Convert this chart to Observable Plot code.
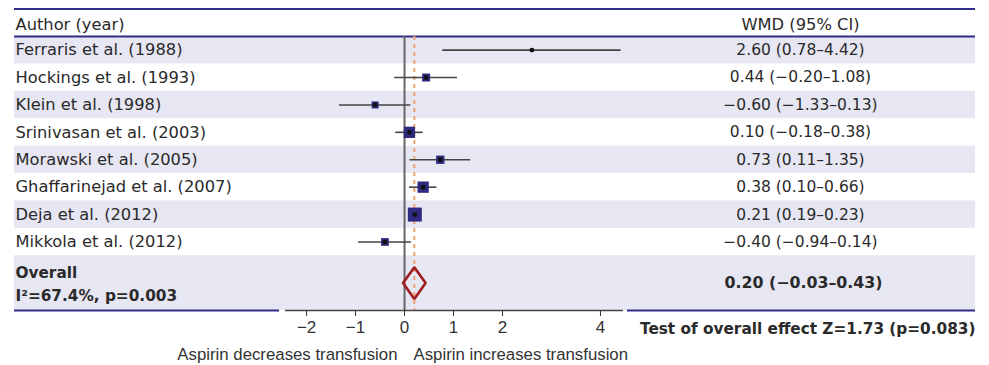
<!DOCTYPE html>
<html>
<head>
<meta charset="utf-8">
<script src="https://cdn.jsdelivr.net/npm/d3@7"></script>
<script src="https://cdn.jsdelivr.net/npm/@observablehq/plot@0.6"></script>
<style>
  html, body { margin: 0; padding: 0; background: #fff; }
  svg { display: block; }
</style>
</head>
<body>
<div id="chart"></div>
<script>
// ---- data ----
const authors = [
  "Ferraris et al. (1988)",
  "Hockings et al. (1993)",
  "Klein et al. (1998)",
  "Srinivasan et al. (2003)",
  "Morawski et al. (2005)",
  "Ghaffarinejad et al. (2007)",
  "Deja et al. (2012)",
  "Mikkola et al. (2012)"
];
const wmd = [2.60, 0.44, -0.60, 0.10, 0.73, 0.38, 0.21, -0.40];
const ciLow = [0.78, -0.20, -1.33, -0.18, 0.11, 0.10, 0.19, -0.94];
const ciHigh = [4.42, 1.08, 0.13, 0.38, 1.35, 0.66, 0.23, 0.14];
const weights = [1.3, 9.1, 7.0, 18.2, 9.8, 18.2, 27.9, 8.5]; // estimated study weights (%)
const overall = {est: 0.20, lo: -0.03, hi: 0.43};
const overallLabel = "Overall";
const heterogeneity = "I\u00b2=67.4%, p=0.003";
const testLabel = "Test of overall effect Z=1.73 (p=0.083)";
const xTicks = [-2, -1, 0, 1, 2, 4];
const leftLabel = "Aspirin decreases transfusion";
const rightLabel = "Aspirin increases transfusion";
const headerLeft = "Author (year)";
const headerRight = "WMD (95% CI)";

// ---- layout ----
const W = 989, H = 365;
const ML = 285, MR = 366, MT = 8.5, MB = 55;
const xDomain = [-2.43, 4.47];
const yDomain = [9.5, -1.5];
const X = px => xDomain[0] + (px - ML) * (xDomain[1] - xDomain[0]) / (W - ML - MR);
const Y = py => yDomain[1] + (py - MT) * (yDomain[0] - yDomain[1]) / (H - MT - MB);

const fmt = d3.format(".2f");
const ciText = (e, l, h) => `${fmt(e)} (${fmt(l)}\u2013${fmt(h)})`;

const rows = authors.map((a, i) => ({
  row: i, author: a, wmd: wmd[i], lo: ciLow[i], hi: ciHigh[i], w: weights[i],
  label: ciText(wmd[i], ciLow[i], ciHigh[i])
}));

const bandRows = rows.filter(d => d.row % 2 === 0).map(d => ({y1: d.row - 0.5, y2: d.row + 0.5}));
bandRows.push({y1: 7.5, y2: 9.5});
const overallRow = 8.5;
const dh = 0.58;
const diamond = [
  {x: overall.lo, y: overallRow},
  {x: overall.est, y: overallRow - dh},
  {x: overall.hi, y: overallRow},
  {x: overall.est, y: overallRow + dh},
  {x: overall.lo, y: overallRow}
];

const navy = "#302c88";
const band = "#e7e6f3";
const textColor = "#2a2a2a";
const tableFont = "DejaVu Sans";
const tableSize = 16.3;
const valueSize = 15.5;
const boldSize = 15.3;

const plot = Plot.plot({
  width: W, height: H,
  marginLeft: ML, marginRight: MR, marginTop: MT, marginBottom: MB,
  style: {fontFamily: tableFont, background: "#fff", overflow: "visible"},
  x: {domain: xDomain},
  y: {domain: yDomain, axis: null},
  r: {type: "sqrt", domain: [0, d3.max(weights)], range: [0, 14 / Math.sqrt(Math.PI)]},
  marks: [
    // row shading
    Plot.rect(bandRows, {x1: () => X(14), x2: () => X(975), y1: "y1", y2: "y2", fill: band}),
    // table lines
    Plot.ruleY([-1.5, -0.5], {x1: () => X(14), x2: () => X(975), stroke: navy, strokeWidth: 2}),
    Plot.ruleY([9.5], {x1: () => X(14), x2: () => X(279), stroke: navy, strokeWidth: 2}),
    Plot.ruleY([9.5], {x1: () => X(627), x2: () => X(975), stroke: navy, strokeWidth: 2}),
    // null line and overall line
    Plot.ruleX([0], {y1: -0.5, y2: 9.5, stroke: "#666", strokeWidth: 2}),
    Plot.ruleX([overall.est], {y1: -0.5, y2: 9.5, stroke: "#f2a26c", strokeWidth: 2, strokeDasharray: "4,4"}),
    // CIs
    Plot.ruleY(rows, {y: "row", x1: "lo", x2: "hi", stroke: "#444", strokeWidth: 1.6}),
    Plot.dot(rows, {x: "wmd", y: "row", r: "w", symbol: "square", fill: "#2e2a80", stroke: null}),
    Plot.dot(rows, {x: "wmd", y: "row", r: 2.4, fill: "#111"}),
    // overall diamond
    Plot.line(diamond, {x: "x", y: "y", stroke: "#9e1d1d", strokeWidth: 2.6, strokeLinejoin: "miter"}),
    // axis
    Plot.ruleY([9.5], {stroke: "#444", strokeWidth: 1.5}),
    Plot.axisX({ticks: xTicks, tickSize: 6, tickPadding: 4, tickFormat: d3.format("d"),
      fontSize: 17, fontFamily: "Liberation Sans", color: "#333"}),
    // headers
    Plot.text([headerLeft], {x: () => X(15), y: () => -0.92, text: d => d, textAnchor: "start",
      fontSize: tableSize, fill: textColor}),
    Plot.text([headerRight], {x: () => X(800), y: () => -0.92, text: d => d, textAnchor: "middle",
      fontSize: tableSize, fill: textColor}),
    // study rows
    Plot.text(rows, {x: () => X(15), y: "row", text: "author", textAnchor: "start",
      fontSize: tableSize, fill: textColor}),
    Plot.text(rows, {x: () => X(800), y: "row", text: "label", textAnchor: "middle",
      fontSize: valueSize, fill: textColor}),
    // overall row
    Plot.text([overallLabel], {x: () => X(15), y: () => Y(273), text: d => d, textAnchor: "start",
      fontSize: boldSize, fontWeight: "bold", fill: textColor}),
    Plot.text([heterogeneity], {x: () => X(15), y: () => Y(296), text: d => d, textAnchor: "start",
      fontSize: boldSize, fontWeight: "bold", fill: textColor}),
    Plot.text([ciText(overall.est, overall.lo, overall.hi)], {x: () => X(803), y: () => overallRow,
      text: d => d, textAnchor: "middle", fontSize: 15.8, fontWeight: "bold", fill: textColor}),
    Plot.text([testLabel], {x: () => X(975), y: () => Y(329), text: d => d, textAnchor: "end",
      fontSize: boldSize, fontWeight: "bold", fill: textColor}),
    // direction labels
    Plot.text([leftLabel], {x: () => X(397), y: () => Y(354), text: d => d, textAnchor: "end",
      fontSize: 16.8, fontFamily: "Liberation Sans", fill: "#333"}),
    Plot.text([rightLabel], {x: () => X(413), y: () => Y(354), text: d => d, textAnchor: "start",
      fontSize: 16.8, fontFamily: "Liberation Sans", fill: "#333"})
  ]
});
document.getElementById("chart").append(plot);
</script>
</body>
</html>
